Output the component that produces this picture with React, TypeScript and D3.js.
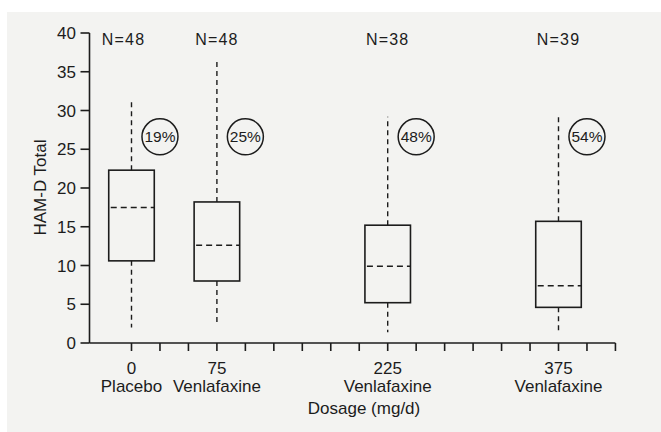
import React from "react";
import * as d3 from "d3";

// Dose groups (mg/d) and their labels
const doses = [0, 75, 225, 375];
const groupNames = ["Placebo", "Venlafaxine", "Venlafaxine", "Venlafaxine"];
const sampleSizes = [48, 48, 38, 39];
const responderPct = [19, 25, 48, 54];

// HAM-D Total distribution per group
const whiskerLow = [2.0, 2.2, 1.4, 1.45];
const quartile1 = [10.6, 8.0, 5.2, 4.6];
const medians = [17.5, 12.6, 9.9, 7.4];
const quartile3 = [22.3, 18.2, 15.2, 15.7];
const whiskerHigh = [31.3, 36.7, 29.2, 29.2];

const yTicks = [0, 5, 10, 15, 20, 25, 30, 35, 40];
const xMinorTicks = d3.range(0, 426, 25);

const W = 661;
const H = 432;
const INK = "#1c1c1c";
const FONT = "'Liberation Sans', Arial, Helvetica, sans-serif";

const textStyle = { fill: INK };

export default function App() {
  const x = d3.scaleLinear().domain([0, 375]).range([131.5, 558.5]);
  const y = d3.scaleLinear().domain([0, 40]).range([343, 33]);

  const axisX = 89.5;
  const xEnd = x(425);
  const boxHalf = x(20) - x(0);
  const circleLevel = 26.6;
  const circleR = 18;

  return (
    <svg
      width={W}
      height={H}
      viewBox={`0 0 ${W} ${H}`}
      style={{ position: "absolute", left: 0, top: 0, display: "block" }}
      fontFamily={FONT}
    >
      <rect x={0} y={0} width={W} height={H} fill="#ffffff" />
      <rect x={7} y={12} width={W - 7} height={H - 12} fill="#f3f3f1" />

      {/* y axis */}
      <line x1={axisX} x2={axisX} y1={y(40)} y2={y(0)} stroke={INK} strokeWidth={1.6} />
      {yTicks.map((t) => (
        <g key={`yt${t}`}>
          <line x1={axisX - 9} x2={axisX} y1={y(t)} y2={y(t)} stroke={INK} strokeWidth={1.6} />
          <text x={76} y={y(t)} dy="0.36em" textAnchor="end" fontSize={17} {...textStyle}>
            {t}
          </text>
        </g>
      ))}
      <text
        transform={`translate(45.5, 187.5) rotate(-90)`}
        textAnchor="middle"
        fontSize={17}
        {...textStyle}
      >
        HAM-D Total
      </text>

      {/* x axis */}
      <line x1={axisX} x2={xEnd} y1={y(0)} y2={y(0)} stroke={INK} strokeWidth={1.6} />
      {xMinorTicks.map((t) => (
        <line
          key={`xt${t}`}
          x1={x(t)}
          x2={x(t)}
          y1={y(0)}
          y2={y(0) + 8}
          stroke={INK}
          strokeWidth={1.6}
        />
      ))}
      {doses.map((d, i) => (
        <g key={`xl${d}`}>
          <text x={x(d)} y={374} textAnchor="middle" fontSize={17} {...textStyle}>
            {d}
          </text>
          <text x={x(d)} y={392} textAnchor="middle" fontSize={17} {...textStyle}>
            {groupNames[i]}
          </text>
        </g>
      ))}
      <text x={364} y={414} textAnchor="middle" fontSize={17} {...textStyle}>
        Dosage (mg/d)
      </text>

      {/* boxes */}
      {doses.map((d, i) => {
        const cx = x(d);
        return (
          <g key={`box${d}`}>
            <line
              x1={cx}
              x2={cx}
              y1={y(quartile3[i])}
              y2={y(whiskerHigh[i])}
              stroke={INK}
              strokeWidth={1.4}
              strokeDasharray="5,4"
            />
            <line
              x1={cx}
              x2={cx}
              y1={y(quartile1[i])}
              y2={y(whiskerLow[i])}
              stroke={INK}
              strokeWidth={1.4}
              strokeDasharray="5,4"
            />
            <rect
              x={cx - boxHalf}
              y={y(quartile3[i])}
              width={boxHalf * 2}
              height={y(quartile1[i]) - y(quartile3[i])}
              fill="none"
              stroke={INK}
              strokeWidth={1.6}
            />
            <line
              x1={cx - boxHalf}
              x2={cx + boxHalf}
              y1={y(medians[i])}
              y2={y(medians[i])}
              stroke={INK}
              strokeWidth={1.5}
              strokeDasharray="6,4"
              strokeDashoffset={-2}
            />
            <text
              x={i === 0 ? cx - 8 : cx}
              y={44.5}
              textAnchor="middle"
              fontSize={16}
              letterSpacing={1.2}
              {...textStyle}
            >
              {`N=${sampleSizes[i]}`}
            </text>
            <circle
              cx={x(d + 25)}
              cy={y(circleLevel)}
              r={circleR}
              fill="none"
              stroke={INK}
              strokeWidth={1.5}
            />
            <text
              x={x(d + 25)}
              y={y(circleLevel)}
              dy="0.36em"
              textAnchor="middle"
              fontSize={15.5}
              {...textStyle}
            >
              {`${responderPct[i]}%`}
            </text>
          </g>
        );
      })}
    </svg>
  );
}
